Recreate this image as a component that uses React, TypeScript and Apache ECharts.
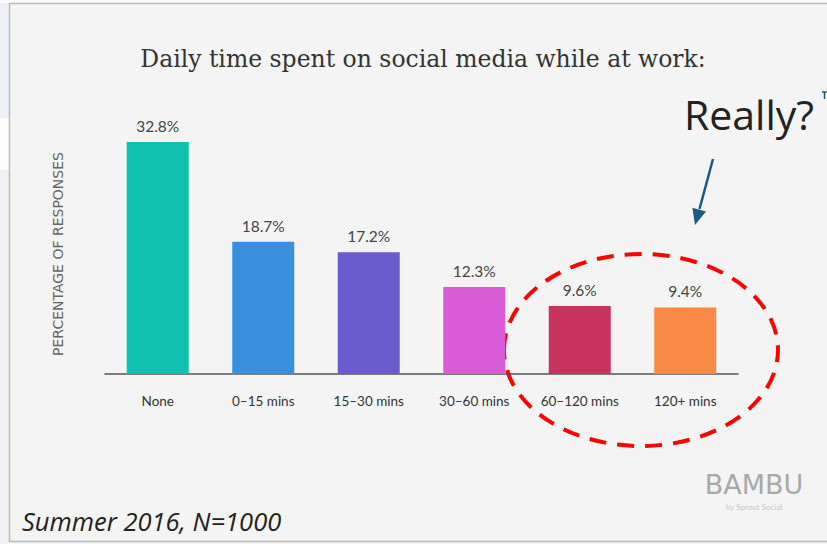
import React, { useEffect, useRef } from "react";
import * as echarts from "echarts";

const categories = ["None", "0–15 mins", "15–30 mins", "30–60 mins", "60–120 mins", "120+ mins"];
const values = [32.8, 18.7, 17.2, 12.3, 9.6, 9.4];
const barColors = ["#10c1b0", "#3a90de", "#6c5bcf", "#d85cd8", "#c8325f", "#f98a46"];
const titleText = "Daily time spent on social media while at work:";
const yAxisName = "PERCENTAGE OF RESPONSES";
const noteText = "Summer 2016, N=1000";
const calloutText = "Really?";

export default function App() {
  const ref = useRef<HTMLDivElement>(null);
  useEffect(() => {
    if (!ref.current) return;
    const chart = echarts.init(ref.current, null, { renderer: "svg" });
    chart.setOption({
      animation: false,
      backgroundColor: "#f4f4f4",
      grid: { left: 105, right: 89, top: 91, bottom: 170 },
      xAxis: {
        type: "category",
        data: categories,
        axisLine: { show: true, lineStyle: { color: "#555", width: 1.5 } },
        axisTick: { show: false },
        axisLabel: { margin: 20, fontFamily: "Lato", fontSize: 13.5, color: "#333" },
      },
      yAxis: {
        type: "value",
        min: 0,
        max: 40,
        show: false,
      },
      series: [
        {
          type: "bar",
          barWidth: 62,
          data: values.map((v, i) => ({ value: v, itemStyle: { color: barColors[i] } })),
          label: {
            show: true,
            position: "top",
            distance: 8,
            formatter: (p: any) => p.value.toFixed(1) + "%",
            fontFamily: "Lato",
            fontSize: 15.5,
            color: "#444",
          },
        },
      ],
      graphic: [
        { type: "rect", z: -10, shape: { x: 0, y: 0, width: 9, height: 118 }, style: { fill: "#edf1f6" } },
        { type: "rect", z: -10, shape: { x: 0, y: 118, width: 9, height: 52 }, style: { fill: "#fbfbfb" } },
        { type: "rect", z: -10, shape: { x: 0, y: 170, width: 9, height: 374 }, style: { fill: "#f1f1f3" } },
        { type: "rect", z: -10, shape: { x: 0, y: 0, width: 827, height: 3 }, style: { fill: "#fafafa" } },
        { type: "polyline", shape: { points: [[827, 3.5], [9.5, 3.5], [9.5, 541.5], [827, 541.5]] }, style: { stroke: "#bdbdbd", lineWidth: 1.5, fill: "none" } },
        {
          type: "text",
          x: 423,
          y: 59,
          style: { text: titleText, fontFamily: "DejaVu Serif", fontSize: 23.5, fill: "#333", align: "center", verticalAlign: "middle" },
        },
        {
          type: "text",
          x: 58,
          y: 254,
          rotation: Math.PI / 2,
          style: { text: yAxisName, fontFamily: "DejaVu Sans", fontSize: 14, fill: "#666", align: "center", verticalAlign: "middle" },
        },
        {
          type: "text",
          x: 684,
          y: 114,
          style: { text: calloutText, fontFamily: "Open Sans", fontSize: 41, fill: "#222", align: "left", verticalAlign: "middle" },
        },
        { type: "line", shape: { x1: 713, y1: 159, x2: 699.5, y2: 209 }, style: { stroke: "#1b5a85", lineWidth: 2.5 } },
        { type: "polygon", shape: { points: [[706, 211.4], [692.4, 207.8], [695, 225]] }, style: { fill: "#1b5a85" } },
        { type: "line", shape: { x1: 822, y1: 92, x2: 827, y2: 92 }, style: { stroke: "#1b5a85", lineWidth: 1.5 } },
        { type: "line", shape: { x1: 824.5, y1: 92, x2: 824.5, y2: 99 }, style: { stroke: "#1b5a85", lineWidth: 1.5 } },
        {
          type: "ellipse",
          shape: { cx: 641, cy: 350, rx: 137, ry: 96 },
          style: { fill: "none", stroke: "#ff0000", lineWidth: 4, lineDash: [17, 11] },
        },
        {
          type: "text",
          x: 754,
          y: 484,
          style: { text: "BAMBU", fontFamily: "DejaVu Sans", fontSize: 27, fill: "#a9a9a9", align: "center", verticalAlign: "middle" },
        },
        {
          type: "text",
          x: 754,
          y: 507,
          style: { text: "by Sprout Social", fontFamily: "Lato", fontSize: 8, fill: "#c9c9c9", align: "center", verticalAlign: "middle" },
        },
        {
          type: "text",
          x: 22,
          y: 521,
          style: { text: noteText, fontFamily: "Open Sans", fontStyle: "italic", fontSize: 25.5, fill: "#222", align: "left", verticalAlign: "middle" },
        },
      ],
    });
    return () => chart.dispose();
  }, []);
  return <div ref={ref} style={{ position: "fixed", left: 0, top: 0, width: 827, height: 544 }} />;
}
